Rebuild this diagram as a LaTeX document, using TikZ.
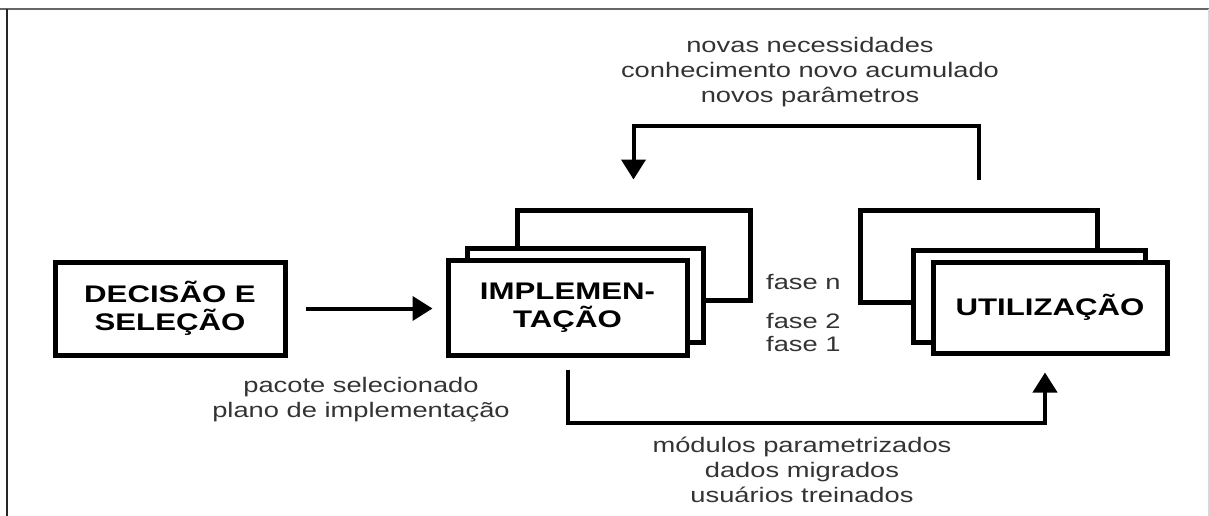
\documentclass[tikz,border=0pt]{standalone}
\usepackage{fontspec}
\setmainfont{Liberation Sans}[FakeStretch=1.3]
\usepackage{tikz}
\usetikzlibrary{arrows.meta}

\begin{document}
\begin{tikzpicture}[
		    x=1pt, y=-1pt,
		    caixa/.style={draw, line width=5pt, fill=white, align=center,
		        font=\fontsize{24}{28}\selectfont\bfseries},
		    rotulo/.style={align=center, inner sep=0pt, text=black!80,
		        font=\fontsize{21}{25}\selectfont},
		    seta/.style={line width=4pt, -{Triangle[length=20pt, width=24pt]}}
		]
		\useasboundingbox (0,0) rectangle (1209,516);
		\draw[black!60, line width=2pt] (0,9) -- (1209,9);
		\draw[black!85, line width=2pt] (6.5,9) -- (6.5,516);
		\draw[black!15, line width=1pt] (1208,9) -- (1208,516);

		\node[caixa, minimum width=230pt, minimum height=93pt] (dec) at (170,308.5) {DECISÃO E\\SELEÇÃO};

		\node[caixa, minimum width=233pt, minimum height=90pt] (imp3) at (633.5,255) {};
		\node[caixa, minimum width=236pt, minimum height=94pt] (imp2) at (585,295) {};
		\node[caixa, minimum width=239pt, minimum height=95pt] (imp) at (567.5,307.5) {IMPLEMEN-\\TAÇÃO};

		\node[caixa, minimum width=237pt, minimum height=92pt] (uti3) at (978.5,256) {};
		\node[caixa, minimum width=232pt, minimum height=92pt] (uti2) at (1029,296) {};
		\node[caixa, minimum width=234pt, minimum height=91pt] (uti) at (1050,307.5) {UTILIZAÇÃO};

		\node[rotulo] (necessidades) at (810,72) {novas necessidades\\conhecimento novo acumulado\\novos parâmetros};
		\node[rotulo, anchor=base west] (fasen) at (766,289) {fase n};
		\node[rotulo, anchor=base west] (fase2) at (766,328) {fase 2};
		\node[rotulo, anchor=base west] (fase1) at (766,351) {fase 1};
		\node[rotulo] (pacote) at (361,400) {pacote selecionado\\plano de implementação};
		\node[rotulo] (modulos) at (802,470) {módulos parametrizados\\dados migrados\\usuários treinados};

		\coordinate (entrega) at ([xshift=-5pt, yshift=-17pt]uti.south);
		\draw[seta] ([xshift=18pt]dec.east) -- ([xshift=-13pt]dec.east -| imp.west);
		\draw[seta] ([yshift=-12pt]imp.south) -- ++(0,53) -| (entrega);
		\draw[seta] ([yshift=28pt]uti3.north) -- ++(0,-53) -| ([yshift=28pt]imp3.north);
		\end{tikzpicture}
\end{document}
